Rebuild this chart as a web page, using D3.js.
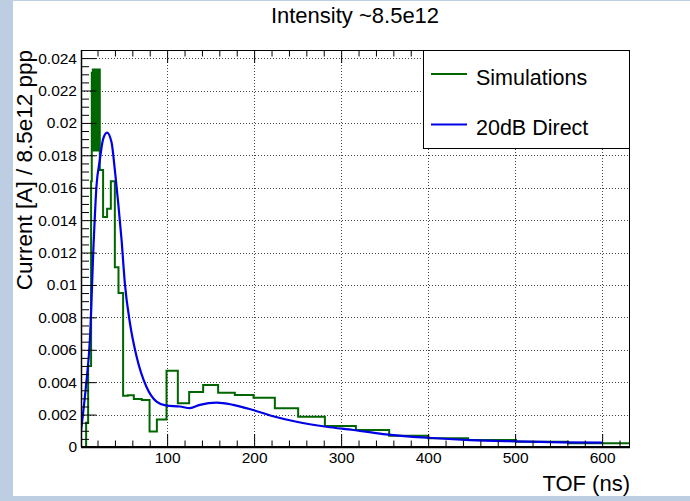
<!DOCTYPE html>
<html>
<head>
<meta charset="utf-8">
<script src="https://cdn.jsdelivr.net/npm/d3@7"></script>
<style>
  html, body { margin: 0; padding: 0; background: #ffffff; }
  svg { display: block; font-family: "Liberation Sans", Arial, Helvetica, sans-serif; }
</style>
</head>
<body>
<svg id="chart" width="690" height="501"></svg>
<script>
// ---------------- DATA ----------------
const title = "Intensity ~8.5e12";
const xTitle = "TOF (ns)";
const yTitle = "Current [A] / 8.5e12 ppp";
const seriesNames = ["Simulations", "20dB Direct"];

const xTicks = [100, 200, 300, 400, 500, 600];
const xTickLabels = ["100", "200", "300", "400", "500", "600"];
const yTicks = [0, 0.002, 0.004, 0.006, 0.008, 0.010, 0.012, 0.014, 0.016, 0.018, 0.020, 0.022, 0.024];
const yTickLabels = ["0", "0.002", "0.004", "0.006", "0.008", "0.01", "0.012", "0.014", "0.016", "0.018", "0.02", "0.022", "0.024"];

// Simulations histogram: bin edges (ns) and bin contents (A / ppp)
const simEdges = [6.9, 9.2, 12.6, 13.4,
  14.0, 14.6, 15.2, 15.8, 16.4, 17.0, 17.6, 18.2, 18.8, 19.4, 20.0, 20.6, 21.2, 21.8, 22.6,
  26.4, 31.0, 35.3, 39.9, 44.1, 49.4, 54.8, 61.7, 70.9, 79.8, 88.2, 99.3, 112.3, 125.3,
  141.4, 158.6, 177.8, 199.3, 223.8, 250.6, 281.3, 316.9, 355.2, 400.0, 446.0, 500.9, 560.7, 632.0];
const simValues = [0.0015, 0.0050, 0.0164,
  0.0231, 0.0184, 0.0233, 0.0183, 0.0232, 0.0184, 0.0233, 0.0183, 0.0232, 0.0184, 0.0233, 0.0183, 0.0232, 0.0184, 0.0233,
  0.0171, 0.0142, 0.0147, 0.0164, 0.0111, 0.0095, 0.00317, 0.0032, 0.00296, 0.0029, 0.00095, 0.0017, 0.0047, 0.0027,
  0.0034, 0.00383, 0.00335, 0.00321, 0.00304, 0.00239, 0.00187, 0.0013, 0.00105, 0.0007, 0.00054, 0.00043, 0.00033, 0.00023];

// 20dB Direct measurement curve
const directTof = [1, 6.6, 11.2, 15.7, 18.8, 22.6, 26.4, 31.0, 36.1, 39.9, 43.7, 47.6, 51.4, 57.1, 64.8, 76.3, 87.8,
  99.3, 114.6, 126.1, 137.6, 156.8, 175.9, 198.9, 221.8, 248.7, 283.2, 313.8, 348.3, 400, 447.9, 501.6, 554.8, 600];
const directCurrent = [0.0010, 0.0037, 0.0066, 0.0128, 0.0161, 0.0177, 0.0190, 0.0194, 0.0188, 0.0171, 0.0151, 0.0128,
  0.0101, 0.0077, 0.0056, 0.0037, 0.0028, 0.00255, 0.0025, 0.0024, 0.0026, 0.00274, 0.0026, 0.00228, 0.0019, 0.00156,
  0.00125, 0.00105, 0.0008, 0.00057, 0.00043, 0.00035, 0.00029, 0.00027];

// ---------------- LAYOUT ----------------
const svg = d3.select("#chart");
const W = 690, H = 501;
const plot = { left: 81, top: 50, right: 630, bottom: 447 };
const simColor = "#006600";
const dirColor = "#0000e6";

// background frame
svg.append("rect").attr("x", 0).attr("y", 0).attr("width", W).attr("height", H).attr("fill", "#bdcee2");
svg.append("rect").attr("x", 13).attr("y", 1).attr("width", W - 13).attr("height", 495).attr("fill", "#ffffff");

const x = d3.scaleLinear().domain([1, 632]).range([plot.left, plot.right]);
const y = d3.scaleLinear().domain([0, 0.0245]).range([plot.bottom, plot.top]);

// grid
const grid = svg.append("g").attr("stroke", "#444").attr("stroke-width", 1).attr("stroke-dasharray", "1,2");
grid.selectAll("line.gx").data(xTicks).join("line")
  .attr("x1", d => Math.round(x(d)) + 0.5).attr("x2", d => Math.round(x(d)) + 0.5)
  .attr("y1", plot.top).attr("y2", plot.bottom);
grid.selectAll("line.gy").data(yTicks.filter(d => d > 0)).join("line")
  .attr("x1", plot.left).attr("x2", plot.right)
  .attr("y1", d => Math.round(y(d)) + 0.5).attr("y2", d => Math.round(y(d)) + 0.5);

// minor tick values derived from axis range (ticks only, not data)
const xMinor = d3.range(20, 632, 20).filter(v => v % 100 !== 0);
const yMinor = d3.range(0, 0.02451, 0.0005).filter(v => Math.abs(v / 0.002 - Math.round(v / 0.002)) > 1e-6);

// clip for data
svg.append("clipPath").attr("id", "clip").append("rect")
  .attr("x", plot.left).attr("y", plot.top).attr("width", plot.right - plot.left).attr("height", plot.bottom - plot.top);

// histogram step path
const stepPts = [[simEdges[0], 0]];
simValues.forEach((v, i) => { stepPts.push([simEdges[i], v]); stepPts.push([simEdges[i + 1], v]); });
const stepLine = d3.line().x(d => x(d[0])).y(d => y(d[1]));
svg.append("path").attr("clip-path", "url(#clip)")
  .attr("d", stepLine(stepPts)).attr("fill", "none")
  .attr("stroke", simColor).attr("stroke-width", 2).attr("stroke-linejoin", "miter");

// direct curve
const dirLine = d3.line().x((d, i) => x(directTof[i])).y((d, i) => y(directCurrent[i])).curve(d3.curveMonotoneX);
svg.append("path").attr("clip-path", "url(#clip)")
  .attr("d", dirLine(directTof)).attr("fill", "none")
  .attr("stroke", dirColor).attr("stroke-width", 2.2);

// axes
const axisStyle = g => {
  g.select(".domain").remove();
  g.selectAll(".tick line").attr("stroke", "#000").attr("stroke-width", 1);
  g.selectAll(".tick text").attr("fill", "#000").attr("font-size", "15.5px")
    .attr("font-family", "Liberation Sans, Arial, sans-serif");
};
// bottom major
svg.append("g").attr("transform", `translate(0,${plot.bottom})`)
  .call(d3.axisBottom(x).tickValues(xTicks).tickFormat((d, i) => xTickLabels[i]).tickSize(-13).tickPadding(4))
  .call(axisStyle)
  .call(g => g.selectAll(".tick text").attr("dy", "0").attr("y", 16));
svg.append("g").attr("transform", `translate(0,${plot.bottom})`)
  .call(d3.axisBottom(x).tickValues(xMinor).tickFormat("").tickSize(-6.5))
  .call(axisStyle);
// top ticks
svg.append("g").attr("transform", `translate(0,${plot.top})`)
  .call(d3.axisTop(x).tickValues(xTicks).tickFormat("").tickSize(-13))
  .call(axisStyle);
svg.append("g").attr("transform", `translate(0,${plot.top})`)
  .call(d3.axisTop(x).tickValues(xMinor).tickFormat("").tickSize(-6.5))
  .call(axisStyle);
// left
svg.append("g").attr("transform", `translate(${plot.left},0)`)
  .call(d3.axisLeft(y).tickValues(yTicks).tickFormat((d, i) => yTickLabels[i]).tickSize(-15.5).tickPadding(4))
  .call(axisStyle);
svg.append("g").attr("transform", `translate(${plot.left},0)`)
  .call(d3.axisLeft(y).tickValues(yMinor).tickFormat("").tickSize(-8))
  .call(axisStyle);

// frame
svg.append("rect").attr("x", plot.left + 0.5).attr("y", plot.top + 0.5)
  .attr("width", plot.right - plot.left - 1).attr("height", plot.bottom - plot.top - 1)
  .attr("fill", "none").attr("stroke", "#000").attr("stroke-width", 1);
svg.append("line").attr("x1", plot.left).attr("x2", plot.right).attr("y1", plot.bottom + 0.5).attr("y2", plot.bottom + 0.5)
  .attr("stroke", "#000").attr("stroke-width", 1.5);
svg.append("line").attr("x1", plot.left + 0.5).attr("x2", plot.left + 0.5).attr("y1", plot.top).attr("y2", plot.bottom)
  .attr("stroke", "#000").attr("stroke-width", 1.5);

// legend
const lg = svg.append("g");
lg.append("rect").attr("x", 423.5).attr("y", 50.5).attr("width", 206).attr("height", 98)
  .attr("fill", "#fff").attr("stroke", "#000").attr("stroke-width", 1);
const legY = [74, 124.5];
const legCol = [simColor, dirColor];
seriesNames.forEach((name, i) => {
  lg.append("line").attr("x1", 431).attr("x2", 467).attr("y1", legY[i]).attr("y2", legY[i])
    .attr("stroke", legCol[i]).attr("stroke-width", 2);
  lg.append("text").attr("x", 476).attr("y", legY[i] + 10.5).attr("font-size", "21.5px").attr("fill", "#000").text(name);
});

// titles
svg.append("text").attr("x", 355).attr("y", 23).attr("text-anchor", "middle")
  .attr("font-size", "22px").attr("fill", "#000").text(title);
svg.append("text").attr("x", plot.right).attr("y", 491).attr("text-anchor", "end")
  .attr("font-size", "22px").attr("fill", "#000").text(xTitle);
svg.append("text").attr("transform", `translate(32,${plot.top}) rotate(-90)`).attr("text-anchor", "end")
  .attr("font-size", "22.5px").attr("fill", "#000").text(yTitle);
</script>
</body>
</html>
